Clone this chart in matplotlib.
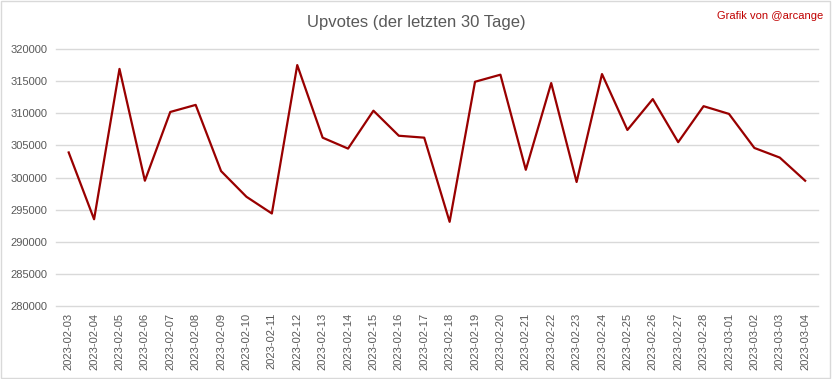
import matplotlib
matplotlib.use('Agg')
from matplotlib import pyplot as plt
from matplotlib.patches import Rectangle

plt.rcParams['font.family'] = ['Liberation Sans', 'DejaVu Sans']

# Daten
dates = ['2023-02-03', '2023-02-04', '2023-02-05', '2023-02-06', '2023-02-07',
         '2023-02-08', '2023-02-09', '2023-02-10', '2023-02-11', '2023-02-12',
         '2023-02-13', '2023-02-14', '2023-02-15', '2023-02-16', '2023-02-17',
         '2023-02-18', '2023-02-19', '2023-02-20', '2023-02-21', '2023-02-22',
         '2023-02-23', '2023-02-24', '2023-02-25', '2023-02-26', '2023-02-27',
         '2023-02-28', '2023-03-01', '2023-03-02', '2023-03-03', '2023-03-04']
upvotes = [303900, 293500, 316900, 299500, 310200,
           311300, 301000, 297000, 294400, 317500,
           306200, 304500, 310400, 306500, 306200,
           293100, 314900, 316000, 301200, 314700,
           299300, 316100, 307400, 312200, 305500,
           311100, 309900, 304600, 303100, 299500]
yticks = list(range(280000, 320001, 5000))

fig = plt.figure(figsize=(8.32, 3.79), dpi=100)
ax = fig.add_axes([0.0673, 0.1926, 0.9157, 0.6781])

x = list(range(len(dates)))
ax.plot(x, upvotes, color='#990000', linewidth=1.6)

ax.set_xlim(-0.5, len(dates) - 0.5)
ax.set_ylim(280000, 320000)
ax.set_yticks(yticks)
ax.set_yticklabels([str(v) for v in yticks])
ax.set_xticks(x)
ax.set_xticklabels(dates, rotation=90)
ax.tick_params(axis='both', length=0, labelsize=8, labelcolor='#595959')
ax.tick_params(axis='x', pad=5)
ax.tick_params(axis='y', pad=6)
ax.grid(axis='y', color='#d9d9d9', linewidth=1)
for gl in ax.get_ygridlines():
    gl.set_clip_on(False)
ax.set_axisbelow(True)
for s in ax.spines.values():
    s.set_visible(False)

fig.text(0.5, 0.94, 'Upvotes (der letzten 30 Tage)', ha='center', va='center',
         fontsize=12, color='#595959')
fig.text(0.99, 0.958, 'Grafik von @arcange', ha='right', va='center',
         fontsize=8, color='#c00000')

fig.patches.append(Rectangle((0.001, 0.002), 0.997, 0.995, transform=fig.transFigure,
                             fill=False, edgecolor='#d9d9d9', linewidth=1))

fig.savefig('out.png', dpi=100)
